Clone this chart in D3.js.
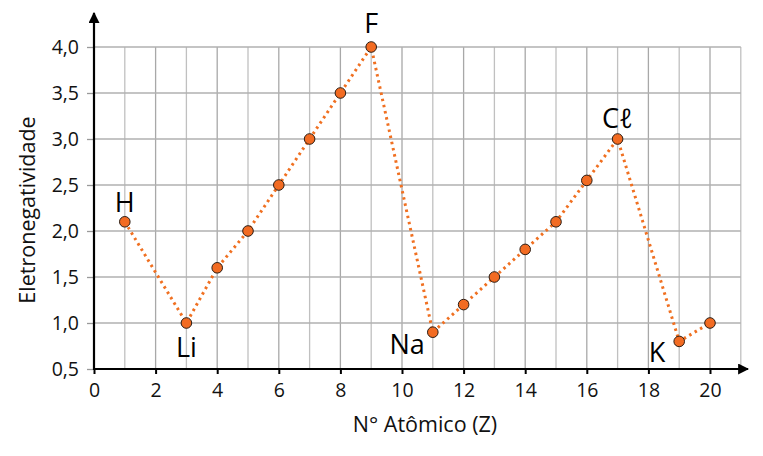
<!DOCTYPE html>
<html><head><meta charset="utf-8">
<script src="https://cdn.jsdelivr.net/npm/d3@7"></script>
<style>body{margin:0;background:#fff}svg{display:block}text{font-family:"Open Sans",sans-serif}</style>
</head><body>
<svg id="c" width="763" height="456"></svg>
<script>
const zValues = [1,3,4,5,6,7,8,9,11,12,13,14,15,16,17,19,20];
const enValues = [2.1,1.0,1.6,2.0,2.5,3.0,3.5,4.0,0.9,1.2,1.5,1.8,2.1,2.55,3.0,0.8,1.0];
const elementLabels = [{z:1,t:"H",pos:"above"},{z:3,t:"Li",pos:"below"},{z:9,t:"F",pos:"above"},{z:11,t:"Na",pos:"belowleft"},{z:17,t:"Cℓ",pos:"above"},{z:19,t:"K",pos:"belowleft"}];
const xTicks = [0,2,4,6,8,10,12,14,16,18,20];
const yTicks = [0.5,1.0,1.5,2.0,2.5,3.0,3.5,4.0];

const svg = d3.select("#c");
const x = d3.scaleLinear().domain([0,20]).range([94,710]);
const y = d3.scaleLinear().domain([0.5,4.0]).range([369,47]);
const fmt = v => d3.format(".1f")(v).replace(".",",");

// grid
const g = svg.append("g");
g.selectAll("line.v").data(d3.range(1,22)).enter().append("line")
  .attr("x1",d=>x(d)).attr("x2",d=>x(d)).attr("y1",y(0.5)).attr("y2",y(4.0))
  .attr("stroke",d=>d%2?"#c0c0c0":"#a8a8a8").attr("stroke-width",1.3);
g.selectAll("line.h").data(yTicks.slice(1)).enter().append("line")
  .attr("x1",x(0)).attr("x2",x(21)).attr("y1",d=>y(d)).attr("y2",d=>y(d))
  .attr("stroke","#b0b0b0").attr("stroke-width",1.3);

// axes
const xAxis = d3.axisBottom(x).tickValues(xTicks).tickSize(5).tickFormat(d3.format("d"));
const xg = svg.append("g").attr("transform",`translate(0,${y(0.5)})`).call(xAxis);
xg.select(".domain").remove();
xg.selectAll("line").attr("stroke","#000").attr("stroke-width",2);
xg.selectAll("text").attr("font-size",19.5).attr("fill","#111").attr("dy","1.0em");
const yAxis = d3.axisLeft(y).tickValues(yTicks).tickSize(7).tickFormat(fmt);
const yg = svg.append("g").attr("transform",`translate(${x(0)},0)`).call(yAxis);
yg.select(".domain").remove();
yg.selectAll("line").attr("stroke","#999").attr("stroke-width",1.3);
yg.selectAll("text").attr("font-size",19.5).attr("fill","#111").attr("dy","0.33em").attr("dx","-5");

svg.append("defs").append("marker").attr("id","arr").attr("viewBox","0 0 10 10").attr("refX",9).attr("refY",5)
  .attr("markerWidth",5).attr("markerHeight",5).attr("orient","auto").attr("markerUnits","strokeWidth")
  .append("path").attr("d","M0,0L10,5L0,10z").attr("fill","#000");
svg.append("line").attr("x1",x(0)-1).attr("x2",748).attr("y1",y(0.5)).attr("y2",y(0.5))
  .attr("stroke","#000").attr("stroke-width",2.2).attr("marker-end","url(#arr)");
svg.append("line").attr("x1",x(0)).attr("x2",x(0)).attr("y1",y(0.5)+1).attr("y2",13)
  .attr("stroke","#000").attr("stroke-width",2.2).attr("marker-end","url(#arr)");

// line
const data = zValues.map((z,i)=>({z,v:enValues[i]}));
svg.append("path").datum(data)
  .attr("d",d3.line().x(d=>x(d.z)).y(d=>y(d.v)))
  .attr("fill","none").attr("stroke","#f07021").attr("stroke-width",3).attr("stroke-dasharray","2.5,3.8");
svg.selectAll("circle").data(data).enter().append("circle")
  .attr("cx",d=>x(d.z)).attr("cy",d=>y(d.v)).attr("r",5.3)
  .attr("fill","#f26b22").attr("stroke","#2b1d14").attr("stroke-width",1);

// element labels
const lookup = new Map(data.map(d=>[d.z,d.v]));
const offs = {H:[0,-10],Li:[0,34],F:[0,-14],Na:[-8,22],"Cℓ":[0,-11],K:[-14,21]};
svg.selectAll("text.el").data(elementLabels).enter().append("text")
  .attr("font-size",27).attr("fill","#000")
  .attr("text-anchor",d=>d.pos==="belowleft"?"end":"middle")
  .attr("x",d=>x(d.z)+offs[d.t][0])
  .attr("y",d=>y(lookup.get(d.z))+offs[d.t][1])
  .text(d=>d.t);

// titles
svg.append("text").attr("x",425).attr("y",432).attr("text-anchor","middle").attr("font-size",21.5).attr("fill","#111").text("N° Atômico (Z)");
svg.append("text").attr("transform","translate(35,210) rotate(-90)").attr("text-anchor","middle").attr("font-size",21.5).attr("fill","#111").text("Eletronegatividade");
</script>
</body></html>
